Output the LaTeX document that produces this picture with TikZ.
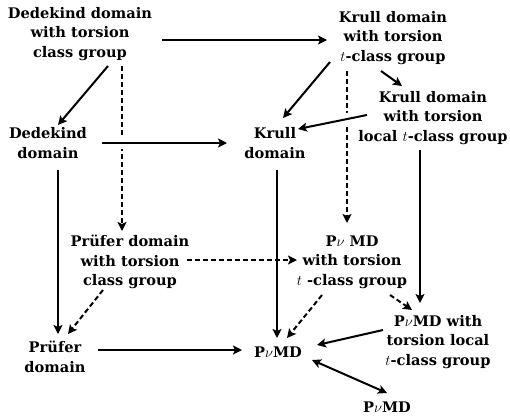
\documentclass[tikz,border=0pt]{standalone}
\usepackage{fontspec}
\usepackage{fix-cm}
\setmainfont{DejaVu Serif}
\usetikzlibrary{arrows.meta,calc}
\begin{document}
\begin{tikzpicture}[x=1pt,y=-1pt,
  lbl/.style={font=\fontsize{14.6}{19.5}\selectfont\bfseries, align=center, inner sep=0pt},
  arr/.style={line width=2pt, -{Stealth[length=9pt,width=9pt,inset=2pt]}},
  darr/.style={arr, dash pattern=on 5pt off 3pt},
  gap/.style={preaction={draw=white, line width=12pt, -, shorten <=12pt, shorten >=12pt}}]
\useasboundingbox[fill=white] (0,0) rectangle (510,418);
\node[lbl] (A) at (80,34) {Dedekind domain\\with torsion\\class group};
\node[lbl] (B) at (393,38) {Krull domain\\with torsion\\$t$-class group};
\node[lbl] (C) at (433,118) {Krull domain\\with torsion\\local $t$-class group};
\node[lbl] (D) at (48,143) {Dedekind\\domain};
\node[lbl] (E) at (275,143) {Krull\\domain};
\node[lbl] (F) at (130,262) {Prüfer domain\\with torsion\\class group};
\node[lbl] (G) at (352,262) {P$\nu$ MD\\with torsion\\$t$ -class group};
\node[lbl] (H) at (438,342) {P$\nu$MD with\\torsion local\\$t$-class group};
\node[lbl] (I) at (55,357) {Prüfer\\domain};
\node[lbl] (J) at (278,352) {P$\nu$MD};
\node[lbl] (K) at (387,407) {P$\nu$MD};
% dashed
\draw[darr] ($(A)+(42,32)$) -- ($(F)+(-8,-31)$);
\draw[darr] ($(B)+(-46,33)$) -- ($(G)+(-5,-39)$);
\draw[darr] ($(F)+(57,-2)$) -- ($(G)+(-55,-2)$);
\draw[darr] ($(F)+(-27,28)$) -- ($(I)+(13,-23)$);
\draw[darr] ($(G)+(-30,33)$) -- ($(J)+(9,-14)$);
\draw[darr] ($(G)+(38,33)$) -- ($(H)+(-26,-32)$);
% solid
\draw[arr] ($(A)+(82,6)$) -- ($(B)+(-66,2)$);
\draw[arr] ($(A)+(28,32)$) -- ($(D)+(10,-18)$);
\draw[arr] ($(B)+(-63,24)$) -- ($(E)+(8,-25)$);
\draw[arr] ($(B)+(-12,33)$) -- ($(C)+(-31,-32)$);
\draw[arr,gap] ($(C)+(-66,-3)$) -- ($(E)+(23,-14)$);
\draw[arr,gap] ($(D)+(54,0)$) -- ($(E)+(-48,0)$);
\draw[arr] ($(D)+(10,27)$) -- ($(I)+(3,-23)$);
\draw[arr] ($(E)+(2,27)$) -- ($(J)+(-1,-14)$);
\draw[arr] ($(C)+(-13,32)$) -- ($(H)+(-18,-39)$);
\draw[arr] ($(H)+(-55,-12)$) -- ($(J)+(39,-7)$);
\draw[arr] ($(I)+(43,-7)$) -- ($(J)+(-36,-2)$);
\draw[arr,{Stealth[length=9pt,width=9pt,inset=2pt]}-{Stealth[length=9pt,width=9pt,inset=2pt]}] ($(J)+(34,8)$) -- ($(K)+(0,-14)$);
\end{tikzpicture}
\end{document}
